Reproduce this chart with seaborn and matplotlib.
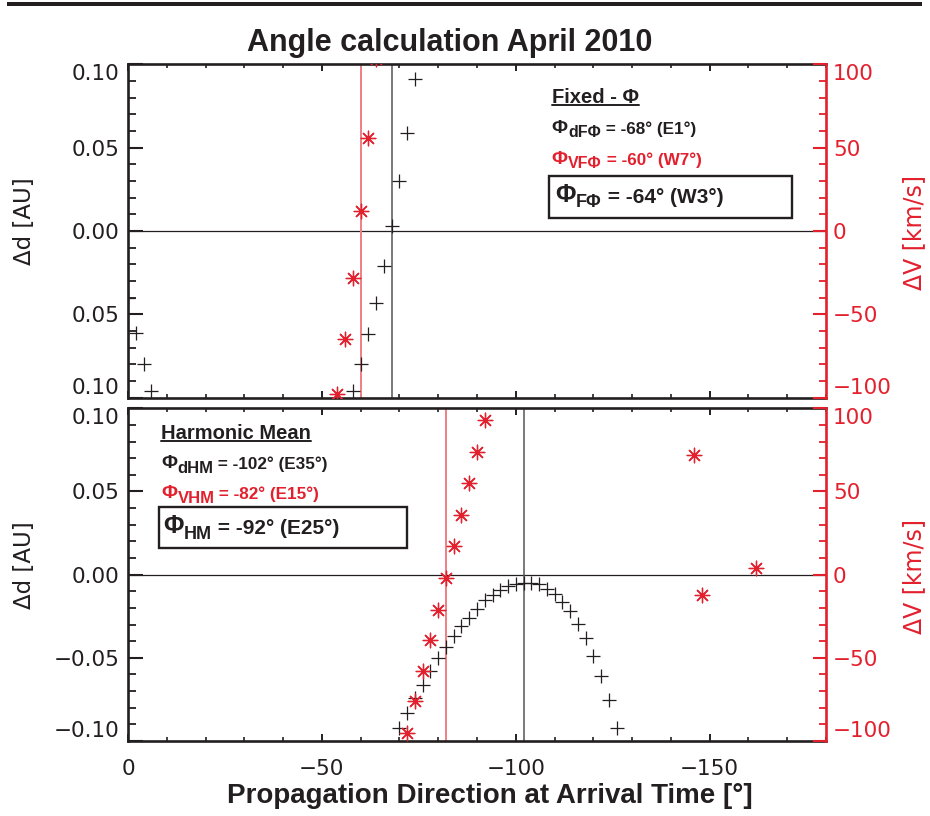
import matplotlib
matplotlib.use("Agg")
import matplotlib.pyplot as plt
import seaborn as sns
from matplotlib.ticker import MultipleLocator, FixedLocator, FixedFormatter
from matplotlib.lines import Line2D
from matplotlib.patches import Rectangle

# ---- Fixed-Phi method: residuals vs. propagation direction -------------
fixed_d_angle = [0, -2, -4, -6, -58, -60, -62, -64, -66, -68, -70, -72, -74]
fixed_d = [-0.040, -0.061, -0.080, -0.096, -0.096, -0.080, -0.062, -0.043,
           -0.021, 0.003, 0.030, 0.059, 0.091]
fixed_v_angle = [-54, -56, -58, -60, -62, -64]
fixed_v = [-98, -65, -28, 12, 56, 103]

# ---- Harmonic-mean method ---------------------------------------------
hm_d_angle = [-68, -70, -72, -74, -76, -78, -80, -82, -84, -86, -88, -90,
              -92, -94, -96, -98, -100, -102, -104, -106, -108, -110, -112,
              -114, -116, -118, -120, -122, -124, -126]
hm_d = [-0.104, -0.0924, -0.0830, -0.0744, -0.0664, -0.0578, -0.0504,
        -0.0434, -0.0370, -0.0310, -0.0258, -0.0204, -0.0154, -0.0124,
        -0.0094, -0.0070, -0.0054, -0.0048, -0.0048, -0.0058, -0.0084,
        -0.0118, -0.0164, -0.0218, -0.0294, -0.0378, -0.0490, -0.0610,
        -0.0754, -0.0924]
hm_v_angle = [-72, -74, -76, -78, -80, -82, -84, -86, -88, -90, -92,
              -146, -148, -162]
hm_v = [-95, -76, -58, -39, -21, -2, 17, 36, 55, 74, 93, 72, -12, 4]

# ---- Best-fit directions (deg) and offsets -----------------------------
phi_d_fixed, phi_v_fixed, phi_fixed = -68, -60, -64
off_d_fixed, off_v_fixed, off_fixed = "E1°", "W7°", "W3°"
phi_d_hm, phi_v_hm, phi_hm = -102, -82, -92
off_d_hm, off_v_hm, off_hm = "E35°", "E15°", "E25°"

# ---- Axis ticks ---------------------------------------------------------
d_ticks = [-0.10, -0.05, 0.0, 0.05, 0.10]
d_ticklabels_top = ["0.10", "0.05", "0.00", "0.05", "0.10"]
d_ticklabels_bottom = ["\u22120.10", "\u22120.05", "0.00", "0.05", "0.10"]
v_ticks = [-100, -50, 0, 50, 100]
v_ticklabels = ["\u2212100", "\u221250", "0", "50", "100"]

INK = "#231f20"
RED = "#e3202d"
RED_LINE = "#ee7f84"
ANN = ["Liberation Sans", "DejaVu Sans"]
TICK_FS = 15.5

sns.set_theme(style="white")
plt.rcParams["font.family"] = ["DejaVu Sans"]
plt.rcParams["axes.unicode_minus"] = True

fig = plt.figure(figsize=(9.3, 8.16), dpi=100)
W, H = 930.0, 816.0

ax_top = fig.add_axes([128 / W, 1 - 397.7 / H, 698 / W, 333.4 / H])
ax_bot = fig.add_axes([128 / W, 1 - 741.0 / H, 698 / W, 332.7 / H])


def draw_panel(ax, d_ang, d_val, v_ang, v_val, phi_d, phi_v, d_labels, show_x):
    ax2 = ax.twinx()
    ax.axhline(0, color=INK, lw=0.9, zorder=1)
    ax.axvline(phi_d, color="#555555", lw=1.1, zorder=1)
    ax.axvline(phi_v, color=RED_LINE, lw=1.4, zorder=1)
    sns.scatterplot(x=d_ang, y=d_val, ax=ax, marker="+", s=105,
                    color=INK, linewidth=0.9, zorder=3)
    sns.scatterplot(x=v_ang, y=v_val, ax=ax2, marker=(8, 2, 0), s=110,
                    color=RED, linewidth=0.95, zorder=3)
    ax.set_xlim(0, -180)
    ax.set_ylim(-0.1, 0.1)
    ax2.set_ylim(-100, 100)
    for a in (ax, ax2):
        a.set_xlabel("")
        a.set_ylabel("")

    # spines
    for s in ("left", "top", "bottom"):
        ax.spines[s].set_color(INK)
        ax.spines[s].set_linewidth(1.9)
        ax2.spines[s].set_visible(False)
    ax.spines["right"].set_visible(False)
    ax2.spines["right"].set_color(RED)
    ax2.spines["right"].set_linewidth(1.9)

    # x ticks
    ax.xaxis.set_major_locator(MultipleLocator(50))
    ax.xaxis.set_minor_locator(MultipleLocator(10))
    ax.tick_params(axis="x", which="major", direction="in", top=True,
                   bottom=True, length=5, width=1.4, color=INK, pad=13,
                   labelsize=TICK_FS, labelcolor=INK, labelbottom=show_x)
    ax.tick_params(axis="x", which="minor", direction="in", top=True,
                   bottom=True, length=3, width=1.2, color=INK)

    # left axis
    ax.yaxis.set_major_locator(FixedLocator(d_ticks))
    ax.yaxis.set_major_formatter(FixedFormatter(d_labels))
    ax.yaxis.set_minor_locator(MultipleLocator(0.01))
    ax.tick_params(axis="y", which="major", direction="in", left=True,
                   right=False, length=11, width=1.5, color=INK, pad=6,
                   labelsize=TICK_FS, labelcolor=INK)
    ax.tick_params(axis="y", which="minor", direction="in", left=True,
                   right=False, length=5.5, width=1.3, color=INK)

    # right axis
    ax2.yaxis.set_major_locator(FixedLocator(v_ticks))
    ax2.yaxis.set_major_formatter(FixedFormatter(v_ticklabels))
    ax2.yaxis.set_minor_locator(MultipleLocator(10))
    ax2.tick_params(axis="y", which="major", direction="in", right=True,
                    left=False, length=9.5, width=1.5, color=RED, pad=5,
                    labelsize=TICK_FS, labelcolor=RED)
    ax2.tick_params(axis="y", which="minor", direction="in", right=True,
                    left=False, length=5, width=1.3, color=RED)
    return ax2


ax2_top = draw_panel(ax_top, fixed_d_angle, fixed_d, fixed_v_angle, fixed_v,
                     phi_d_fixed, phi_v_fixed, d_ticklabels_top, False)
ax2_bot = draw_panel(ax_bot, hm_d_angle, hm_d, hm_v_angle, hm_v,
                     phi_d_hm, phi_v_hm, d_ticklabels_bottom, True)


def phi_label(ax, x, y, sub, rest, color, big, subsize, restsize, drop=2.5):
    """Phi with a subscript, followed by the value text on the same line."""
    t1 = ax.text(x, y, "Φ", transform=ax.transAxes, fontsize=big,
                 fontweight="bold", color=color, ha="left", va="baseline",
                 family=ANN, zorder=6)
    t2 = ax.annotate(sub, xy=(1, 0), xycoords=t1, xytext=(0.3, -drop),
                     textcoords="offset points", fontsize=subsize,
                     fontweight="bold", color=color, ha="left", va="bottom",
                     family=ANN, zorder=6)
    ax.annotate(rest, xy=(1, 0), xycoords=t2, xytext=(0, drop),
                textcoords="offset points", fontsize=restsize,
                fontweight="bold", color=color, ha="left", va="bottom",
                family=ANN, zorder=6)


def boxed(ax, x0, y0, x1, y1):
    ax.add_patch(Rectangle((x0, y0), x1 - x0, y1 - y0, transform=ax.transAxes,
                           fill=False, ec=INK, lw=1.7, clip_on=False,
                           zorder=5))


# Fixed-Phi annotations
head_top = ax2_top.text(0.607, 0.884, "Fixed - Φ", transform=ax_top.transAxes,
                        fontsize=14.5, fontweight="bold", color=INK,
                        ha="left", va="baseline", family=ANN)
phi_label(ax2_top, 0.607, 0.794, "dFΦ", f" = {phi_d_fixed}° ({off_d_fixed})",
          INK, 14, 11.5, 12.3)
phi_label(ax2_top, 0.607, 0.701, "VFΦ", f" = {phi_v_fixed}° ({off_v_fixed})",
          RED, 14, 11.5, 12.3)
boxed(ax2_top, 0.6036, 0.540, 0.952, 0.665)
phi_label(ax2_top, 0.6117, 0.588, "FΦ", f" = {phi_fixed}° ({off_fixed})",
          INK, 18, 13, 15, drop=3)

# Harmonic-mean annotations
head_bot = ax2_bot.text(0.047, 0.908, "Harmonic Mean", transform=ax_bot.transAxes,
                        fontsize=14.5, fontweight="bold", color=INK,
                        ha="left", va="baseline", family=ANN)
phi_label(ax2_bot, 0.0473, 0.820, "dHM", f" = {phi_d_hm}° ({off_d_hm})",
          INK, 14, 12, 12.3)
phi_label(ax2_bot, 0.0473, 0.7295, "VHM", f" = {phi_v_hm}° ({off_v_hm})",
          RED, 14, 12, 12.3)
boxed(ax2_bot, 0.0448, 0.579, 0.399, 0.704)
phi_label(ax2_bot, 0.0506, 0.624, "HM", f" = {phi_hm}° ({off_hm})",
          INK, 18, 13, 15, drop=3)

# Axis titles and figure title
fig.text(0.484, 1 - 51 / H, "Angle calculation April 2010", ha="center",
         va="baseline", fontsize=22, fontweight="bold", color=INK, family=ANN)
fig.text(490 / W, 1 - 803 / H, "Propagation Direction at Arrival Time [°]",
         ha="center", va="baseline", fontsize=20, fontweight="bold",
         color=INK, family=ANN)
for yc in (221, 565):
    fig.text(24 / W, 1 - yc / H, "Δd [AU]", rotation=90, ha="center",
             va="center", fontsize=16.5, color=INK)
for yc in (233, 576):
    fig.text(914 / W, 1 - yc / H, "ΔV [km/s]", rotation=90, ha="center",
             va="center", fontsize=17, color=RED)

# Rule across the top edge of the figure
fig.add_artist(Rectangle((7 / W, 1 - 6 / H), 915 / W, 4 / H,
                         transform=fig.transFigure, color=INK, lw=0))

# Lay out once, then pull the end tick labels inside the axis range
fig.canvas.draw()
for ax, ax2 in ((ax_top, ax2_top), (ax_bot, ax2_bot)):
    lt = ax.yaxis.get_major_ticks()
    lt[0].label1.set_va("bottom")
    lt[-1].label1.set_va("top")
    rt = ax2.yaxis.get_major_ticks()
    rt[0].label2.set_va("bottom")
    rt[-1].label2.set_va("top")

# Underline the panel headings
renderer = fig.canvas.get_renderer()
for t in (head_top, head_bot):
    bb = t.get_window_extent(renderer)
    y = bb.y0 + 1.5
    fig.add_artist(Line2D([bb.x0 / W, bb.x1 / W], [y / H, y / H],
                          transform=fig.transFigure, color=INK, lw=1.4))

fig.savefig("out.png", dpi=100)
